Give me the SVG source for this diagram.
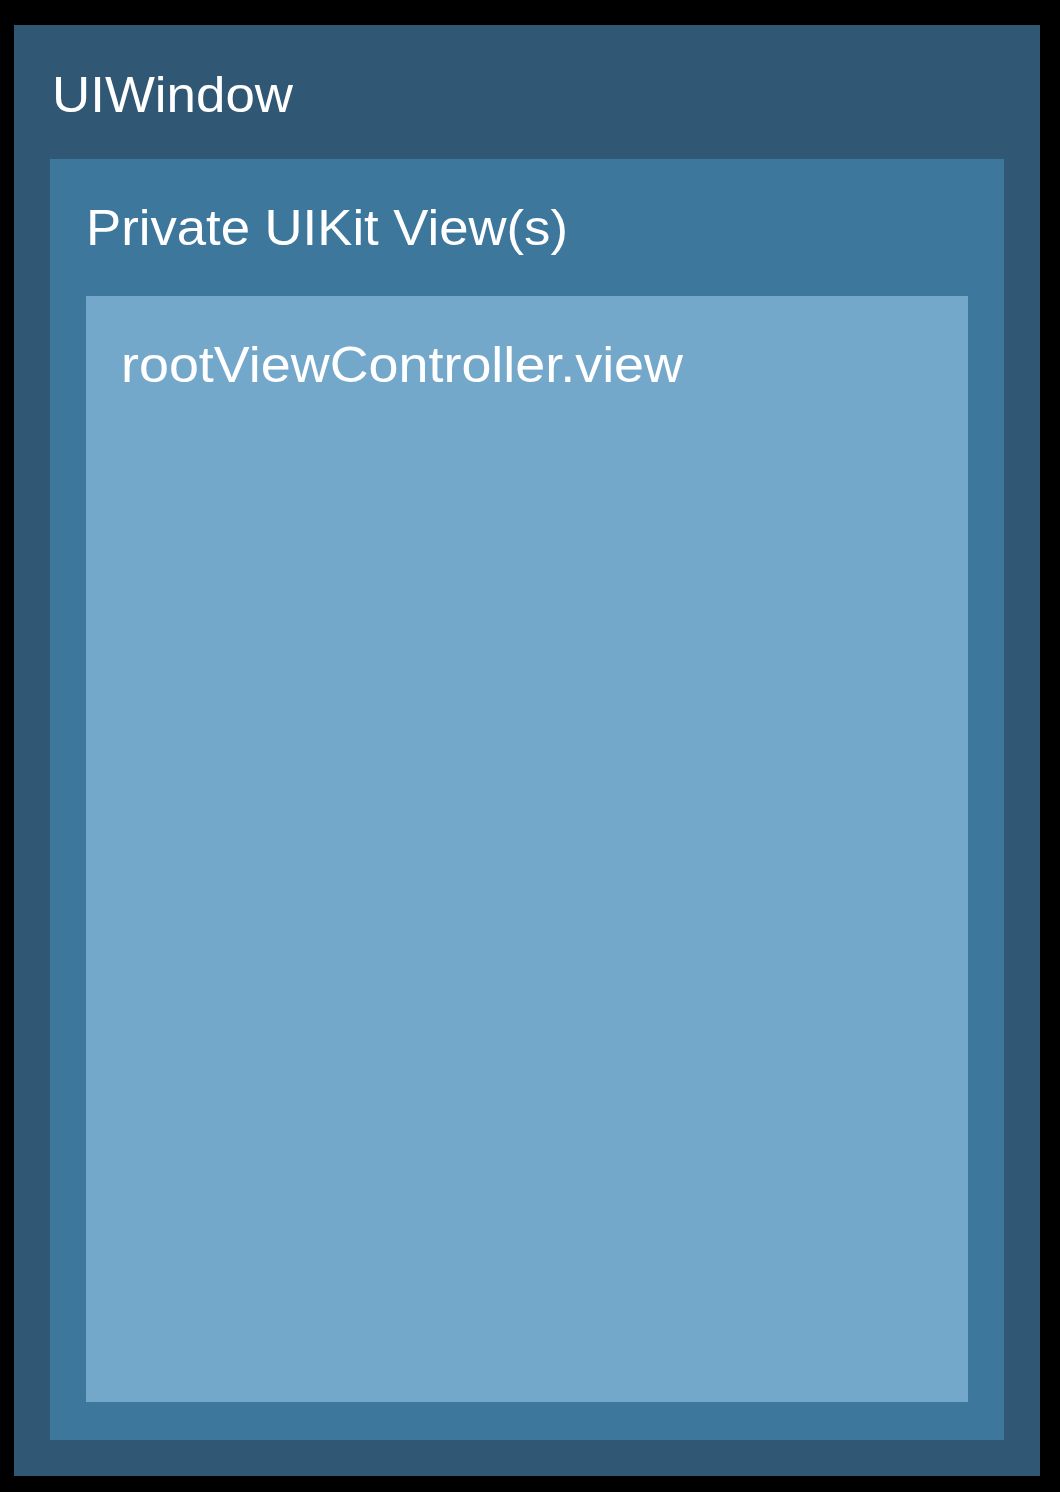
<svg xmlns="http://www.w3.org/2000/svg" width="1060" height="1492" viewBox="0 0 1060 1492">
<style>
.lbl{font-family:"Liberation Sans","Helvetica",Arial,sans-serif;font-size:50px;fill:#ffffff}
</style>
<rect x="0" y="0" width="1060" height="1492" fill="#000000"/>
<g id="uiwindow">
<rect x="14" y="25" width="1026" height="1451" fill="#305874"/>
<text class="lbl" x="52" y="112" textLength="241" lengthAdjust="spacingAndGlyphs">UIWindow</text>
</g>
<g id="private-uikit-views">
<rect x="50" y="159" width="954" height="1281" fill="#3e779c"/>
<text class="lbl" x="86" y="245" textLength="482" lengthAdjust="spacingAndGlyphs">Private UIKit View(s)</text>
</g>
<g id="root-view">
<rect x="86" y="296" width="882" height="1106" fill="#74a8cb"/>
<text class="lbl" x="121" y="382" textLength="562" lengthAdjust="spacingAndGlyphs">rootViewController.view</text>
</g>
<g id="connectors"/>
</svg>
